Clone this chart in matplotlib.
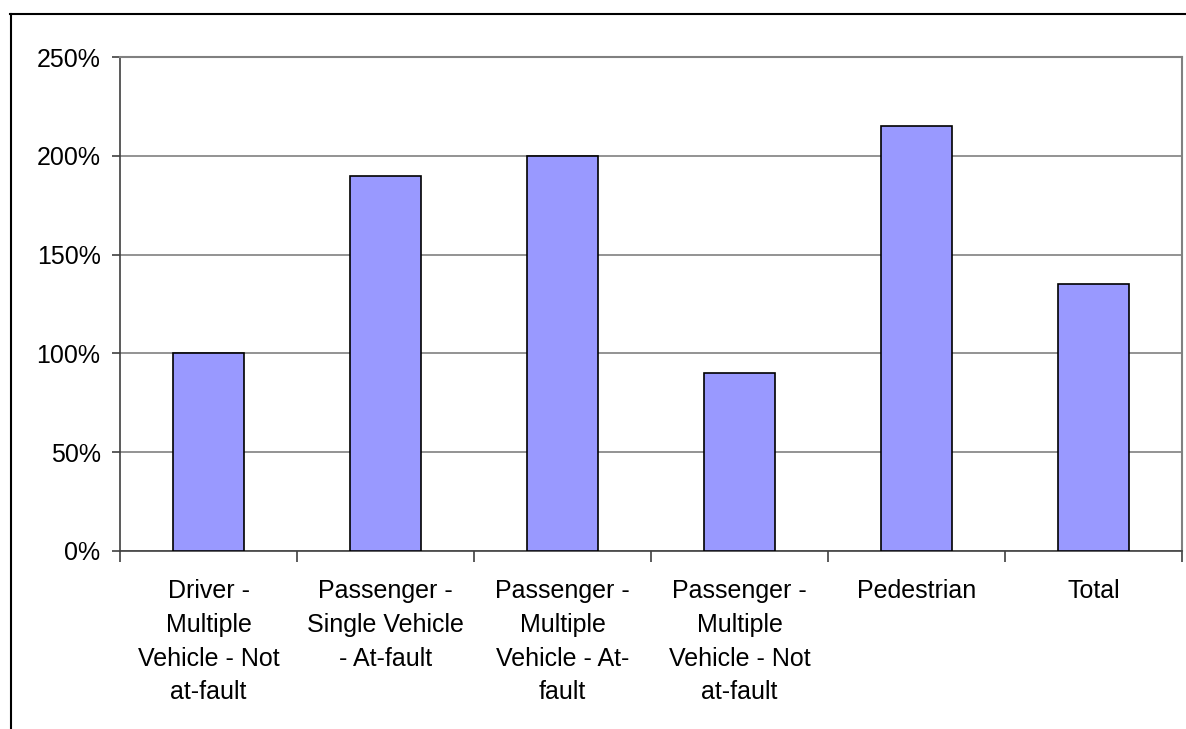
import matplotlib.pyplot as plt
from matplotlib.lines import Line2D
from matplotlib.ticker import MultipleLocator, PercentFormatter
import numpy as np

categories = ['Driver -\nMultiple\nVehicle - Not\nat-fault',
              'Passenger -\nSingle Vehicle\n- At-fault',
              'Passenger -\nMultiple\nVehicle - At-\nfault',
              'Passenger -\nMultiple\nVehicle - Not\nat-fault',
              'Pedestrian',
              'Total']
values = [100, 190, 200, 90, 215, 135]

plt.rcParams['font.family'] = ['Liberation Sans', 'DejaVu Sans']

W, H = 1186, 729
fig = plt.figure(figsize=(W / 100, H / 100), dpi=100)
ax = fig.add_axes([120 / W, 1 - 551 / H, (1182 - 120) / W, (551 - 57) / H])

x = np.arange(len(categories))
ax.bar(x, values, width=0.4, color='#9999FF', edgecolor='black', linewidth=1.2, zorder=3)

ax.set_xlim(-0.5, len(categories) - 0.5)
ax.set_ylim(0, 250)
ax.yaxis.set_major_locator(MultipleLocator(50))
ax.yaxis.set_major_formatter(PercentFormatter(decimals=0))
ax.grid(True, axis='y', color='#808080', linewidth=1.2, zorder=0)

# category labels between the boundary ticks
ax.set_xticks(x)
ax.set_xticklabels(categories, fontsize=18, linespacing=1.52, va='top')
ax.tick_params(axis='x', length=0, pad=20)
ax.set_xticks(np.arange(len(categories) + 1) - 0.5, minor=True)
ax.tick_params(axis='x', which='minor', length=8, width=1.2, color='#404040', direction='out')
ax.tick_params(axis='y', labelsize=18, length=6, width=1.2, color='#404040', pad=8)

for s in ['top', 'right']:
    ax.spines[s].set_color('#808080')
    ax.spines[s].set_linewidth(1.5)
for s in ['left', 'bottom']:
    ax.spines[s].set_color('#404040')
    ax.spines[s].set_linewidth(1.2)

# outer chart frame, cut off at the right and bottom
fig.add_artist(Line2D([10 / W, 1.0], [1 - 14 / H, 1 - 14 / H], transform=fig.transFigure,
                      color='black', linewidth=1.5))
fig.add_artist(Line2D([11 / W, 11 / W], [0, 1 - 14 / H], transform=fig.transFigure,
                      color='black', linewidth=1.5))

fig.savefig('out.png', dpi=100, facecolor='white')
